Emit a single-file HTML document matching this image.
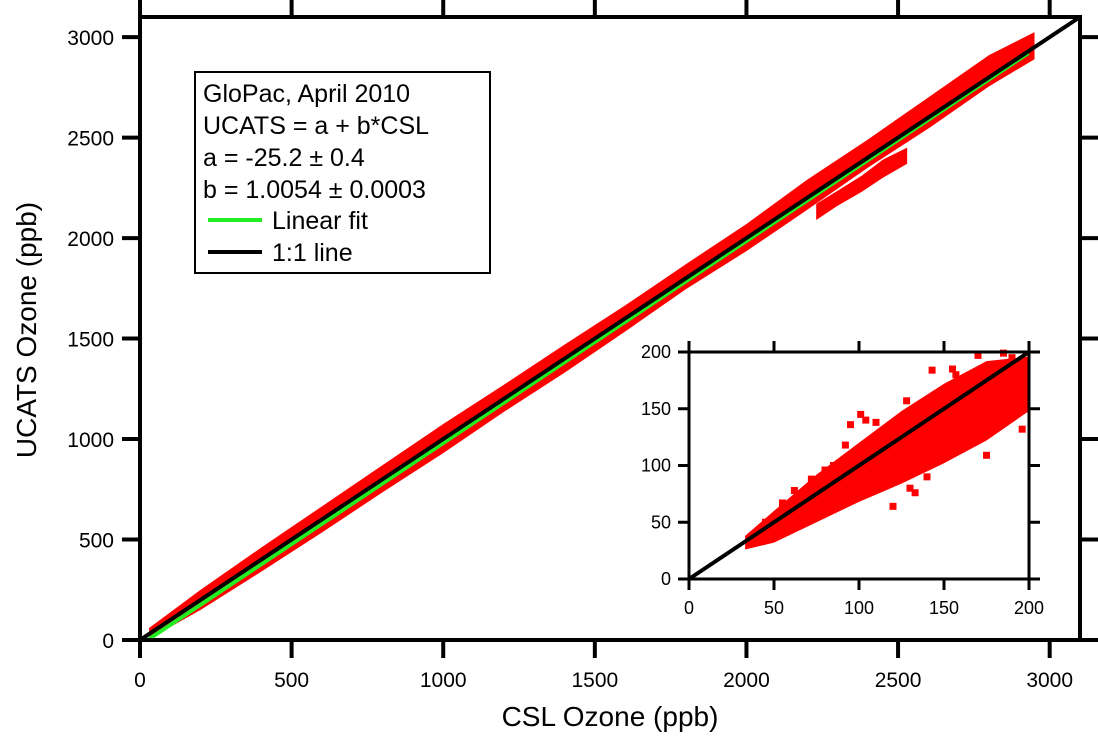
<!DOCTYPE html>
<html><head><meta charset="utf-8"><style>
body{margin:0;background:#fff}
svg text{font-family:"Liberation Sans",sans-serif;fill:#000}
</style></head><body>
<svg id="c" width="1098" height="733" xmlns="http://www.w3.org/2000/svg">
<g id="main"></g>
<g id="inset"></g>
<g>
<rect x="195" y="72" width="295" height="201" fill="#fff" stroke="#000" stroke-width="2"/>
<text x="203" y="102" font-size="25">GloPac, April 2010</text>
<text x="203" y="134" font-size="25">UCATS = a + b*CSL</text>
<text x="203" y="166" font-size="25">a = -25.2 ± 0.4</text>
<text x="203" y="198" font-size="25">b = 1.0054 ± 0.0003</text>
<line x1="208" y1="220" x2="262" y2="220" stroke="#22ee22" stroke-width="4"/>
<text x="272" y="229" font-size="25">Linear fit</text>
<line x1="208" y1="252" x2="262" y2="252" stroke="#000" stroke-width="4"/>
<text x="272" y="261" font-size="25">1:1 line</text>
</g>
</svg>
<script>
const mainTicks=[0,500,1000,1500,2000,2500,3000];
const bandCsl=[30,200,400,600,800,1000,1200,1400,1600,1800,2000,2200,2400,2600,2800,2950];
const bandLow=[5,150,340,535,735,930,1135,1330,1535,1745,1935,2140,2350,2545,2755,2890];
const bandHigh=[60,250,460,665,870,1075,1270,1470,1665,1870,2070,2290,2490,2700,2910,3025];
const branchCsl=[2230,2300,2380,2450,2530];
const branchLow=[2090,2160,2230,2300,2370];
const branchHigh=[2170,2235,2310,2390,2450];
const fitA=-25.2, fitB=1.0054;
const insetTicks=[0,50,100,150,200];
const insetCsl=[33,50,75,100,125,150,175,200];
const insetLow=[26,32,50,68,84,102,122,148];
const insetHigh=[38,60,92,120,148,172,192,196];
const outX=[45,55,62,72,80,85,92,95,101,104,110,120,128,130,133,138,140,143,150,155,157,160,165,170,175,178,185,190,196,198];
const outY=[50,67,78,88,96,100,118,136,145,140,138,64,157,80,76,145,90,184,165,185,180,173,170,197,109,177,199,195,132,150];
const NS="http://www.w3.org/2000/svg";
function mk(p,t,a){const e=document.createElementNS(NS,t);for(const k in a)e.setAttribute(k,a[k]);p.appendChild(e);return e;}
const mx=v=>140+v*(940/3100), my=v=>640-v*(623/3100);
const ix=v=>689+v*(340/200), iy=v=>579-v*(227/200);
const M=document.getElementById('main'), I=document.getElementById('inset');
function band(g,xs,lo,hi,fx,fy,nm){let d='M';xs.forEach((x,i)=>d+=fx(x)+','+fy(hi[i])+' L');for(let i=xs.length-1;i>=0;i--)d+=fx(xs[i])+','+fy(lo[i])+(i?' L':' Z');const p=mk(g,'path',{d:d,fill:'#ff0000'});

}
band(M,bandCsl,bandLow,bandHigh,mx,my,'main-data-band');
band(M,branchCsl,branchLow,branchHigh,mx,my,'main-data-branch');
let l=mk(M,'line',{x1:mx(30),y1:my(fitA+fitB*30),x2:mx(2930),y2:my(fitA+fitB*2930),stroke:'#22ee22','stroke-width':4});


l=mk(M,'line',{x1:mx(0),y1:my(0),x2:mx(3100),y2:my(3100),stroke:'#000','stroke-width':4});


mk(M,'rect',{x:140,y:17,width:940,height:623,fill:'none',stroke:'#000','stroke-width':4});
mainTicks.forEach(t=>{
 mk(M,'line',{x1:mx(t),y1:640,x2:mx(t),y2:658,stroke:'#000','stroke-width':4});
 mk(M,'line',{x1:mx(t),y1:17,x2:mx(t),y2:0,stroke:'#000','stroke-width':4});
 mk(M,'line',{x1:140,y1:my(t),x2:122,y2:my(t),stroke:'#000','stroke-width':4});
 mk(M,'line',{x1:1080,y1:my(t),x2:1098,y2:my(t),stroke:'#000','stroke-width':4});
 let a=mk(M,'text',{x:mx(t),y:687,'font-size':21,'text-anchor':'middle'});a.textContent=t;
 
 
 a=mk(M,'text',{x:114,y:my(t)+8,'font-size':21,'text-anchor':'end'});a.textContent=t;
 
 
});
let tt=mk(M,'text',{x:610,y:726,'font-size':28,'text-anchor':'middle'});tt.textContent='CSL Ozone (ppb)';


tt=mk(M,'text',{x:36,y:330,'font-size':28,'text-anchor':'middle',transform:'rotate(-90 36 330)'});tt.textContent='UCATS Ozone (ppb)';


// inset
mk(I,'rect',{x:689,y:352,width:340,height:227,fill:'#fff'});
band(I,insetCsl,insetLow,insetHigh,ix,iy,'inset-data-band');
outX.forEach((x,i)=>{const r=mk(I,'rect',{x:ix(x)-3.5,y:iy(outY[i])-3.5,width:7,height:7,fill:'#ff0000'});

});
l=mk(I,'line',{x1:ix(0),y1:iy(0),x2:ix(200),y2:iy(200),stroke:'#000','stroke-width':4});


mk(I,'rect',{x:689,y:352,width:340,height:227,fill:'none',stroke:'#000','stroke-width':3});
insetTicks.forEach(t=>{
 mk(I,'line',{x1:ix(t),y1:579,x2:ix(t),y2:590,stroke:'#000','stroke-width':3});
 mk(I,'line',{x1:ix(t),y1:352,x2:ix(t),y2:341,stroke:'#000','stroke-width':3});
 mk(I,'line',{x1:689,y1:iy(t),x2:678,y2:iy(t),stroke:'#000','stroke-width':3});
 mk(I,'line',{x1:1029,y1:iy(t),x2:1040,y2:iy(t),stroke:'#000','stroke-width':3});
 let a=mk(I,'text',{x:ix(t),y:614,'font-size':18,'text-anchor':'middle'});a.textContent=t;
 
 
 a=mk(I,'text',{x:671,y:iy(t)+6,'font-size':18,'text-anchor':'end'});a.textContent=t;
 
 
});
</script>
</body></html>
